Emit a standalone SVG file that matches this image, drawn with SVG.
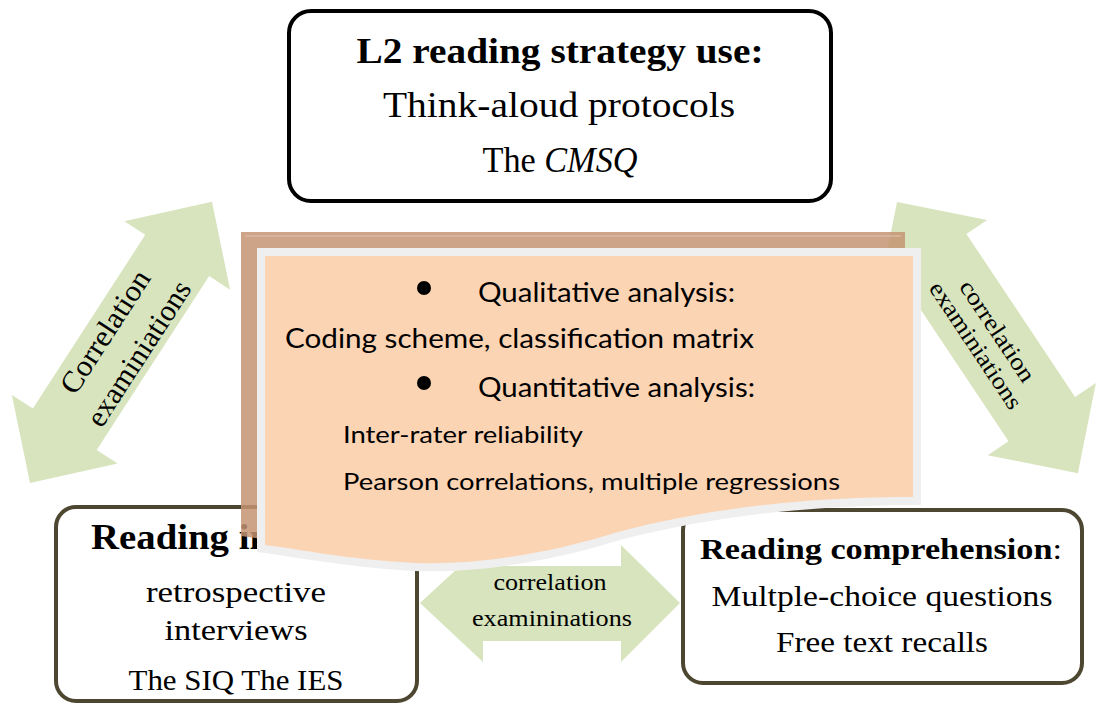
<svg xmlns="http://www.w3.org/2000/svg" width="1098" height="704" viewBox="0 0 1098 704">
<style>
.box{fill:#ffffff;stroke-width:4}
.serif{font-family:"Liberation Serif","DejaVu Serif",serif;fill:#000}
.sans{font-family:Lato,"Liberation Sans",sans-serif;fill:#000}
.arrow{fill:#d7e4bd}
</style>
<rect width="1098" height="704" fill="#ffffff"/>
<g id="node-top">
<rect class="box" x="289" y="11" width="542" height="190" rx="22" stroke="#000000"/>
<text class="serif" x="560" y="63" font-size="35" font-weight="bold" text-anchor="middle" textLength="407" lengthAdjust="spacingAndGlyphs">L2 reading strategy use:</text>
<text class="serif" x="559" y="117" font-size="35" text-anchor="middle" textLength="352" lengthAdjust="spacingAndGlyphs">Think-aloud protocols</text>
<text class="serif" x="560" y="172" font-size="35" text-anchor="middle" textLength="155" lengthAdjust="spacingAndGlyphs">The <tspan font-style="italic">CMSQ</tspan></text>
</g>
<g id="node-bottom-left">
<rect class="box" x="56" y="507" width="361" height="194" rx="20" stroke="#4d4630"/>
<text class="serif" x="91" y="549" font-size="35" font-weight="bold" textLength="180" lengthAdjust="spacingAndGlyphs">Reading in</text>
<text class="serif" x="236" y="602" font-size="30" text-anchor="middle" textLength="180" lengthAdjust="spacingAndGlyphs">retrospective</text>
<text class="serif" x="236" y="640" font-size="30" text-anchor="middle" textLength="143" lengthAdjust="spacingAndGlyphs">interviews</text>
<text class="serif" x="236" y="690" font-size="30" text-anchor="middle" textLength="215" lengthAdjust="spacingAndGlyphs">The SIQ The IES</text>
</g>
<g id="node-bottom-right">
<rect class="box" x="683" y="510" width="399" height="173" rx="20" stroke="#4d4630"/>
<text class="serif" x="700" y="559" font-size="29" textLength="362" lengthAdjust="spacingAndGlyphs"><tspan font-weight="bold">Reading comprehension</tspan>:</text>
<text class="serif" x="882" y="606" font-size="30" text-anchor="middle" textLength="341" lengthAdjust="spacingAndGlyphs">Multple-choice questions</text>
<text class="serif" x="882" y="652" font-size="30" text-anchor="middle" textLength="212" lengthAdjust="spacingAndGlyphs">Free text recalls</text>
</g>
<g id="connectors">
<g id="arrow-left" transform="translate(30,483) rotate(-57.1)">
<polygon class="arrow" points="0,0 64,-63 64,-38 271,-38 271,-63 335,0 271,63 271,38 64,38 64,63"/>
</g>
<text class="serif" font-size="30" text-anchor="middle" transform="translate(121,342) rotate(-57.1)"><tspan x="0" y="-9" textLength="141" lengthAdjust="spacingAndGlyphs">Correlation</tspan><tspan x="0" y="31" textLength="167" lengthAdjust="spacingAndGlyphs">examiniations</tspan></text>
<g id="arrow-right" transform="translate(897,202) rotate(56.3)">
<polygon class="arrow" points="0,0 65,-65 65,-40 261,-40 261,-65 326,0 261,65 261,40 65,40 65,65"/>
</g>
<text class="serif" font-size="24" text-anchor="middle" transform="translate(987.5,337.5) rotate(56.3)"><tspan x="0" y="-4" textLength="117" lengthAdjust="spacingAndGlyphs">correlation</tspan><tspan x="0" y="22" textLength="148" lengthAdjust="spacingAndGlyphs">examiniations</tspan></text>
<polygon id="arrow-middle" class="arrow" points="420,603 483,545 483,566 621,566 621,545 680,603 621,662 621,641 483,641 483,662"/>
<text class="serif" font-size="24" text-anchor="middle" x="550" y="590" textLength="113" lengthAdjust="spacingAndGlyphs">correlation</text>
<text class="serif" font-size="24" text-anchor="middle" x="552" y="626" textLength="160" lengthAdjust="spacingAndGlyphs">examininations</text>
</g>
<g id="node-analysis">
<path d="M241,232 H905 V489 C800,489 700,499 604,524 C524,549 444,559 384,554 C324,550 274,540 241,536 Z" fill="#c49473" fill-opacity="0.85"/>
<path d="M245,236 H901" stroke="#e2c3ad" stroke-width="1" fill="none"/>
<path d="M257,248 H921 V505 C816,505 716,515 620,540 C540,565 460,575 400,570 C340,566 290,556 257,552 Z" fill="#efefef"/>
<path d="M265,256 H913 V497 C812,497 712,507 618,532 C538,557 460,567 400,562 C340,558 292,548 265,545 Z" fill="#fbd4b4"/>
<circle cx="424" cy="288" r="7" fill="#000"/>
<text class="sans" x="478" y="302" font-size="26" textLength="257" lengthAdjust="spacingAndGlyphs">Qualitative analysis:</text>
<text class="sans" x="285" y="348" font-size="26" textLength="469" lengthAdjust="spacingAndGlyphs">Coding scheme, classification matrix</text>
<circle cx="424" cy="383" r="7" fill="#000"/>
<text class="sans" x="478" y="397" font-size="26" textLength="277" lengthAdjust="spacingAndGlyphs">Quantitative analysis:</text>
<text class="sans" x="343" y="443" font-size="23" textLength="240" lengthAdjust="spacingAndGlyphs">Inter-rater reliability</text>
<text class="sans" x="343" y="490" font-size="23" textLength="497" lengthAdjust="spacingAndGlyphs">Pearson correlations, multiple regressions</text>
</g>
</svg>
